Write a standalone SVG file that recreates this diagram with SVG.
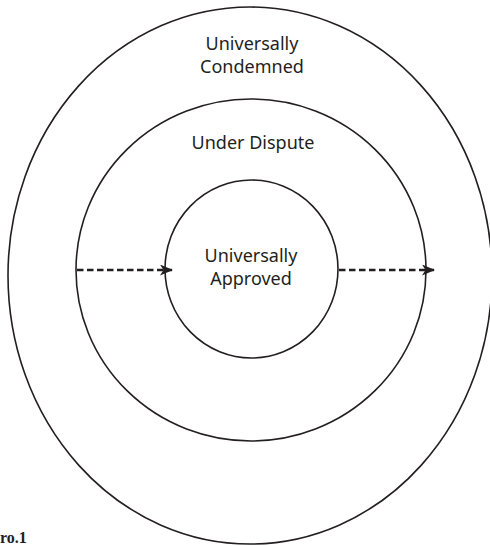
<svg xmlns="http://www.w3.org/2000/svg" width="490" height="546" viewBox="0 0 490 546">
<style>
.ring{fill:none;stroke:#231f20;stroke-width:1.6}
.lbl{font-family:"Noto Sans","Open Sans","Liberation Sans",sans-serif;font-size:18px;fill:#231f20;text-anchor:middle}
.conn{fill:none;stroke:#231f20;stroke-width:2.5;stroke-dasharray:6.5 3.5}
.fig{font-family:"Liberation Serif",serif;font-weight:bold;font-size:16px;fill:#231f20}
</style>
<defs>
<marker id="ah" viewBox="0 0 13 11" refX="12" refY="5.5" markerWidth="13" markerHeight="11" markerUnits="userSpaceOnUse" orient="auto">
<path d="M0,0 L13,5.5 L0,11 L3.5,5.5 Z" fill="#231f20"/>
</marker>
</defs>
<rect width="490" height="546" fill="#fff"/>
<g id="condemned">
<ellipse class="ring" cx="250" cy="275.5" rx="242" ry="268.5"/>
<text class="lbl" x="252" y="50">Universally</text>
<text class="lbl" x="252" y="73">Condemned</text>
</g>
<g id="dispute">
<ellipse class="ring" cx="251" cy="270" rx="175" ry="171"/>
<text class="lbl" x="253" y="149">Under Dispute</text>
</g>
<g id="approved">
<ellipse class="ring" cx="251.5" cy="269" rx="86.5" ry="89"/>
<text class="lbl" x="251" y="262">Universally</text>
<text class="lbl" x="251" y="285">Approved</text>
</g>
<g id="connectors">
<line class="conn" x1="77" y1="270" x2="172" y2="270" marker-end="url(#ah)"/>
<line class="conn" x1="339" y1="270" x2="434" y2="270" marker-end="url(#ah)"/>
</g>
<text class="fig" x="0" y="543">ro.1</text>
</svg>
